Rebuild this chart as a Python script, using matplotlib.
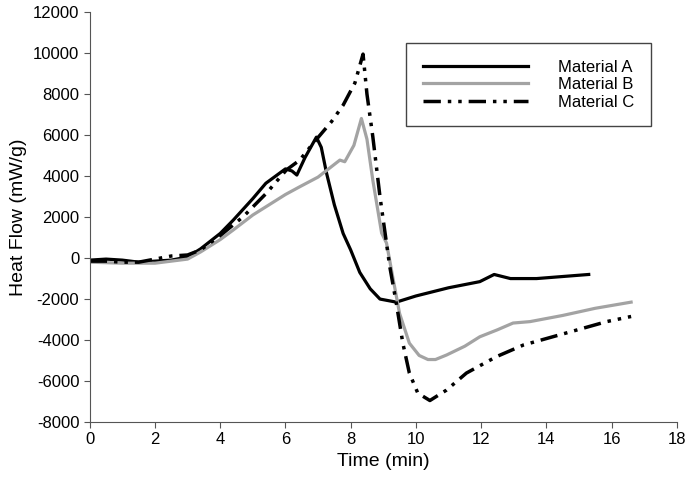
import matplotlib
matplotlib.use("Agg")
import matplotlib.pyplot as plt

plt.rcParams["font.family"] = ["Liberation Sans", "DejaVu Sans"]
plt.rcParams["axes.unicode_minus"] = False

# Material A
a_time = [0, 0.5, 1, 1.5, 2, 2.5, 3, 3.4, 4, 4.4, 5, 5.4, 6, 6.2, 6.35, 6.6, 6.95, 7.1,
          7.26, 7.5, 7.77, 8.0, 8.28, 8.6, 8.9, 9.4, 10, 11, 11.96, 12.4, 12.9, 13.7, 14.5, 15.3]
a_flow = [-100, -50, -100, -200, -150, -100, 50, 450, 1200, 1850, 2900, 3650, 4350, 4250, 4050,
          4900, 5900, 5400, 4150, 2600, 1200, 400, -700, -1500, -2000, -2150, -1850, -1450,
          -1150, -800, -1000, -1000, -900, -800]

# Material B
b_time = [0, 1, 2, 2.5, 3, 3.4, 4, 4.4, 5, 5.4, 6, 6.44, 7, 7.67, 7.82, 8.1, 8.33, 8.5, 8.68,
          8.95, 9.1, 9.3, 9.5, 9.8, 10.1, 10.37, 10.6, 10.94, 11.5, 11.96, 12.5, 12.98, 13.5,
          14.5, 15.5, 16.6]
b_flow = [-200, -250, -250, -150, -50, 300, 900, 1370, 2100, 2500, 3100, 3480, 3950, 4780, 4700,
          5500, 6810, 5800, 3800, 1220, 730, -1000, -2700, -4150, -4750, -4950, -4950, -4730,
          -4300, -3840, -3500, -3170, -3100, -2800, -2450, -2150]

# Material C
c_time = [0, 0.5, 1, 1.5, 2, 2.5, 3, 3.4, 4, 4.7, 5.42, 6.03, 6.44, 6.85, 7.41, 7.77, 8.13,
          8.38, 8.5, 8.68, 8.9, 9.2, 9.4, 9.6, 9.8, 10.06, 10.43, 10.94, 11.55, 12.47, 13.3,
          14.6, 15.85, 16.6]
c_flow = [-150, -150, -200, -200, -50, 100, 150, 400, 1100, 2010, 3170, 4300, 4780, 5600, 6650,
          7460, 8540, 9950, 8000, 5920, 2990, -420, -2200, -4150, -5610, -6590, -6950, -6440,
          -5610, -4810, -4240, -3660, -3100, -2850]

fig = plt.figure(figsize=(6.85, 4.84), dpi=100)
ax = fig.add_axes([0.131, 0.128, 0.857, 0.847])

ax.plot(a_time, a_flow, color="black", lw=2.3, label="Material A")
ax.plot(b_time, b_flow, color="#a3a3a3", lw=2.3, label="Material B")
ax.plot(c_time, c_flow, color="black", lw=2.5, linestyle=(0, (5, 2, 1, 2, 1, 2)),
        label="Material C")

ax.set_xlim(0, 18)
ax.set_ylim(-8000, 12000)
ax.set_xticks(range(0, 19, 2))
ax.set_yticks(range(-8000, 12001, 2000))
ax.tick_params(labelsize=12, direction="out", length=4, color="#555555")
ax.spines["top"].set_visible(False)
ax.spines["right"].set_visible(False)
for s in ("left", "bottom"):
    ax.spines[s].set_color("#555555")
ax.set_xlabel("Time (min)", fontsize=14)
ax.set_ylabel("Heat Flow (mW/g)", fontsize=14)

leg = ax.legend(loc="upper left", bbox_to_anchor=(0.525, 0.945), fontsize=12,
                handlelength=6.3, handletextpad=1.8, fancybox=False, framealpha=1,
                edgecolor="#444444", borderpad=1.0, labelspacing=0.15)

fig.savefig("out.png", dpi=100)
